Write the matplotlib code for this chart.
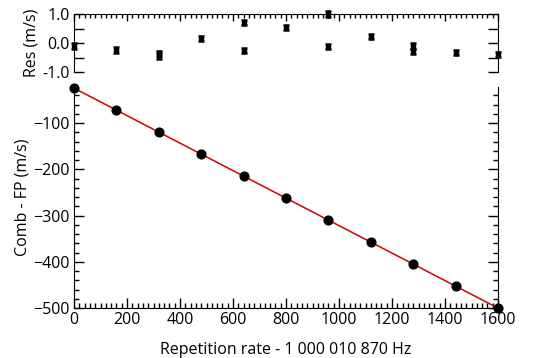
import numpy as np
import matplotlib
matplotlib.use("Agg")
import matplotlib.pyplot as plt
from matplotlib.ticker import MultipleLocator

plt.rcParams["font.family"] = ["Open Sans", "DejaVu Sans"]

# 重复频率偏移 (Hz) 与 Comb - FP (m/s)
rep_rate = [0, 160, 320, 480, 640, 800, 960, 1120, 1280, 1440, 1600]
comb_fp = [-24.6, -72.3, -120.0, -167.0, -214.6, -261.8, -309.5, -357.3, -405.2, -452.9, -500.6]

# 残差 (m/s)，部分频率有两次测量
res_x = [0, 160, 320, 320, 480, 640, 640, 800, 960, 960, 1120, 1280, 1280, 1440, 1600]
res_y = [-0.10, -0.24, -0.35, -0.45, 0.16, 0.70, -0.26, 0.54, 1.0, -0.13, 0.22, -0.10, -0.28, -0.33, -0.39]
res_err = [0.09] * len(res_x)

fig = plt.figure(figsize=(5.34, 3.58), dpi=100)
W, H = 534, 358
ax_res = fig.add_axes([74 / W, 1 - 72 / H, 424 / W, 58 / H])
ax = fig.add_axes([74 / W, 1 - 308 / H, 424 / W, 221 / H])

# 线性拟合
coef = np.polyfit(rep_rate, comb_fp, 1)
xs = np.array([0, 1600])
ax.plot(xs, np.polyval(coef, xs), color="#d40000", lw=1.1, zorder=2)
ax.plot(rep_rate, comb_fp, "o", color="black", ms=6.3, zorder=3, clip_on=False)

ax.set_xlim(0, 1600)
ax.set_ylim(-500, -22)
ax.spines["top"].set_visible(False)
ax.xaxis.set_major_locator(MultipleLocator(200))
ax.xaxis.set_minor_locator(MultipleLocator(20))
ax.yaxis.set_major_locator(MultipleLocator(100))
ax.yaxis.set_minor_locator(MultipleLocator(20))
ax.tick_params(which="both", direction="in", right=True, top=False,
               labelsize=11.5, width=1, pad=3)
ax.tick_params(which="major", length=7)
ax.tick_params(which="minor", length=3.5)
ax.set_xlabel("Repetition rate - 1 000 010 870 Hz", fontsize=11.5, labelpad=10)
ax.set_ylabel("Comb - FP (m/s)", fontsize=11.5, labelpad=2)

ax_res.errorbar(res_x, res_y, yerr=res_err, fmt="s", color="black", ms=3.5,
                capsize=2.5, capthick=1.8, elinewidth=2, clip_on=False)
ax_res.set_xlim(0, 1600)
ax_res.set_ylim(-1.0, 1.0)
ax_res.spines["bottom"].set_visible(False)
ax_res.set_yticks([-1.0, -0.5, 0.0, 0.5, 1.0])
ax_res.set_yticklabels(["-1.0", "", "0.0", "", "1.0"])
ax_res.xaxis.set_major_locator(MultipleLocator(200))
ax_res.xaxis.set_minor_locator(MultipleLocator(20))
ax_res.tick_params(which="both", direction="in", right=True, top=True,
                   bottom=False, labelbottom=False, labelsize=11.5, width=1, pad=3)
ax_res.tick_params(axis="y", which="major", length=7)
ax_res.tick_params(axis="x", which="major", length=5)
ax_res.tick_params(axis="x", which="minor", length=3)
ax_res.set_ylabel("Res (m/s)", fontsize=11.5, labelpad=2)

fig.align_ylabels([ax, ax_res])
fig.savefig("out.png", dpi=100)
